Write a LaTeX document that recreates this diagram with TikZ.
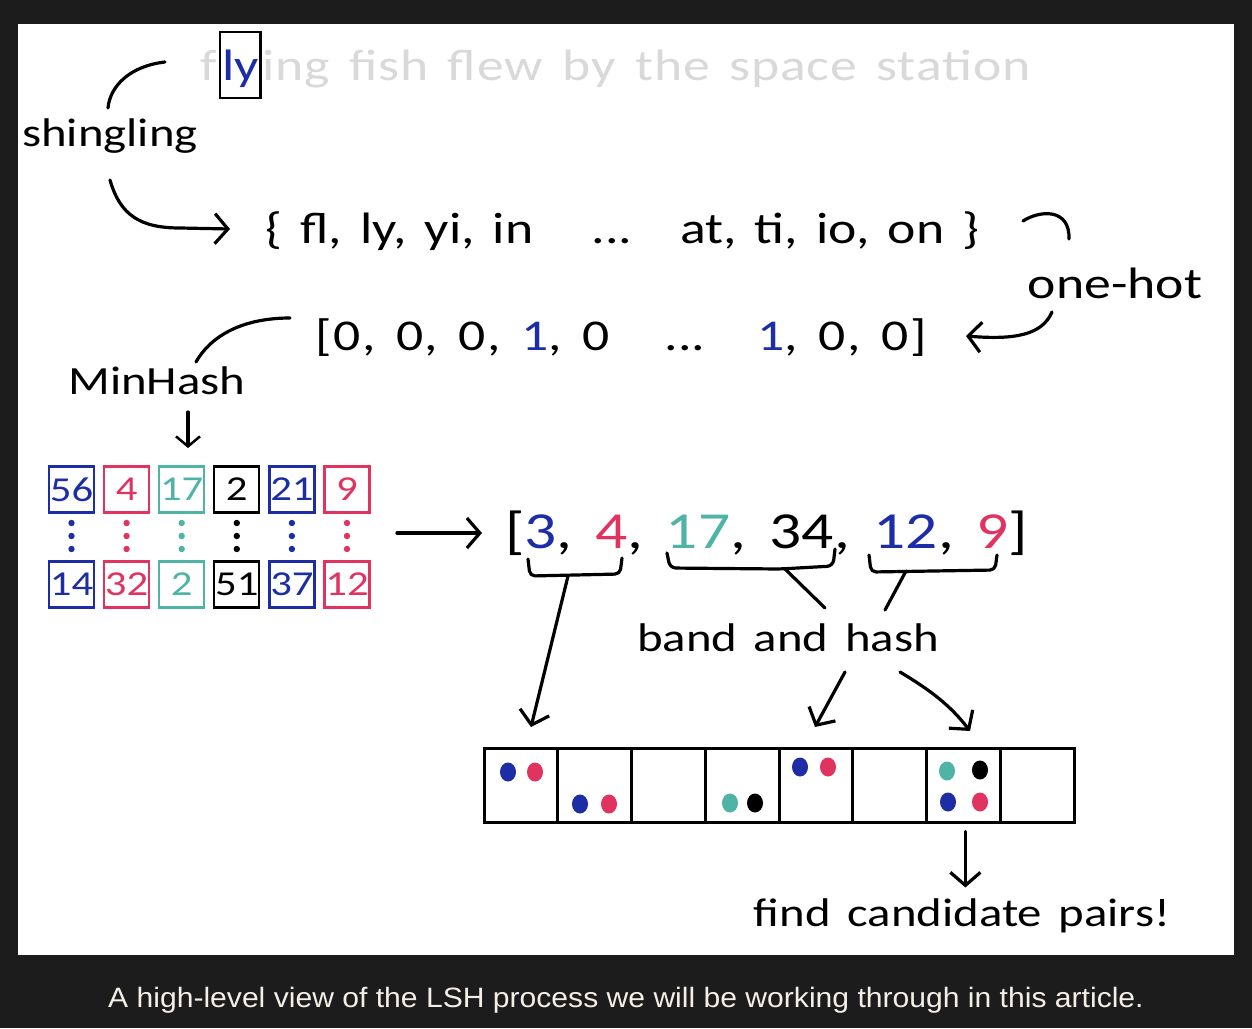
\documentclass[tikz,border=0pt]{standalone}
\usepackage{fontspec}
\setmainfont{Carlito}[FakeStretch=1.22, WordSpace=1.5]
\newfontfamily\captionfont{Liberation Sans}[FakeStretch=1.075]
\usepackage{xcolor}
\usetikzlibrary{arrows.meta,positioning,shapes.geometric,calc}
\definecolor{inkblue}{HTML}{1C2DA6}
\definecolor{inkred}{HTML}{E0335F}
\definecolor{inkteal}{HTML}{4FB4A6}
\definecolor{inkgray}{HTML}{D9D9D9}
\definecolor{darkbg}{HTML}{1C1C1C}
\definecolor{captiontext}{HTML}{F4EFE6}
\tikzstyle{label} = [font=\fontsize{44}{48}\selectfont, inner sep=0pt]
\tikzstyle{smalllabel} = [font=\fontsize{40}{44}\selectfont, inner sep=0pt]
\tikzstyle{biglabel} = [font=\fontsize{52}{56}\selectfont, inner sep=0pt]
\tikzstyle{stroke} = [line width=3.2pt, line cap=round, line join=round]
\tikzstyle{arrow} = [stroke, -{Straight Barb[length=13pt, width=30pt, line width=3.2pt]}]
\tikzstyle{hashbox} = [draw, line width=2.2pt, minimum width=45pt, minimum height=46pt, inner sep=0pt, font=\fontsize{35}{38}\selectfont]
\tikzstyle{bucket} = [draw, line width=3pt, minimum width=73.75pt, minimum height=74pt, inner sep=0pt]
\tikzstyle{ball} = [ellipse, minimum width=16pt, minimum height=19pt, inner sep=0pt]

\begin{document}
\begin{tikzpicture}[x=1pt, y=-1pt]
\fill[darkbg] (0,0) rectangle (1252,1028);
\fill[white] (18,24) rectangle (1234,955);

% sentence and the shingle "ly"
\node[label, text=inkgray, anchor=base west] (f) at (200,80) {f};
\node[label, text=inkblue, anchor=base west, draw=black, line width=2.5pt, inner xsep=2pt, text height=48pt, text depth=18pt] (ly) at ($(f.base east)+(2,0)$) {ly};
\node[label, text=inkgray, anchor=base west] (sentence) at (ly.base east) {\addfontfeatures{LetterSpace=2}ing fish flew by the space station};

\node[smalllabel] (shingling) at (110,136) {shingling};
\node[label, anchor=base west] (setleft) at (265,243) {\{ fl, ly, yi, in};
\node[label, anchor=base] (setdots) at (612,243) {...};
\node[label, anchor=base west] (setright) at (680,243) {at, ti, io, on \}};

\node[label] (onehot) at (1115,283) {one-hot};
\node[label, anchor=base west] (vecleft) at (315,350) {\addfontfeatures{LetterSpace=3.6}[0, 0, 0, \textcolor{inkblue}{1}, 0};
\node[label, anchor=base] (vecdots) at (685,350) {...};
\node[label, anchor=base west] (vecright) at (757,350) {\addfontfeatures{LetterSpace=4}\textcolor{inkblue}{1}, 0, 0]};

\node[smalllabel] (minhash) at (157,381) {MinHash};

% signature matrix
\foreach \top/\bottom/\col [count=\i] in {56/14/inkblue, 4/32/inkred, 17/2/inkteal, 2/51/black, 21/37/inkblue, 9/12/inkred} {
  \node[hashbox, draw=\col, text=\col] (top\i) at ({71.5+55.1*(\i-1)},489.5) {\top};
  \node[hashbox, draw=\col, text=\col] (bottom\i) at ({71.5+55.1*(\i-1)},584.5) {\bottom};
  \foreach \dy in {523,536,549}
    \fill[\col] ({71.5+55.1*(\i-1)},\dy) circle (3.2pt);
}

\node[biglabel, anchor=base west] (signature) at (505,548) {\addfontfeatures{LetterSpace=1.3}[\textcolor{inkblue}{3}, \textcolor{inkred}{4}, \textcolor{inkteal}{17}, 34, \textcolor{inkblue}{12}, \textcolor{inkred}{9}]};

\node[smalllabel] (bandhash) at (788,638) {band and hash};

% buckets
\foreach \i in {1,...,8}
  \node[bucket] (bucket\i) at ({484+73.75*(\i-0.5)},785) {};
\foreach \x/\y/\col in {508/772/inkblue, 535/772/inkred, 580/804/inkblue, 609/804/inkred, 730/803/inkteal, 755/803/black, 800/767/inkblue, 828/767/inkred, 947/771/inkteal, 980/770/black, 948/802/inkblue, 980/802/inkred}
  \node[ball, fill=\col] at (\x,\y) {};

\node[smalllabel] (candidates) at (962,916) {find candidate pairs!};

\node[font=\captionfont\fontsize{28}{32}\selectfont, text=captiontext] (caption) at (626,1000) {A high-level view of the LSH process we will be working through in this article.};

% braces under the signature
\draw[stroke, rounded corners=5pt] (528,559) -- (530,576) -- (620,574) -- (622,558);
\draw[stroke, rounded corners=6pt] (667,553) -- (670,568) -- (780,569) -- (833,566) -- (835,549);
\draw[stroke, rounded corners=5pt] (869,555) -- (871,572) -- (995,570) -- (997,555);
\coordinate (bandA) at (568,576);
\coordinate (bandB) at (785,569);
\coordinate (bandC) at (906,571);

% connector ends
\coordinate (shingA) at (165,62);
\coordinate (shingB) at (108,108);
\coordinate (shingC) at (110,180);
\coordinate (setin) at (230,229);
\coordinate (hookA) at (1023,221);
\coordinate (hookB) at (1069,239);
\coordinate (onehotA) at (1052,312);
\coordinate (vecin) at (966,336);
\coordinate (minA) at (290,318);
\coordinate (minB) at (196,362);
\coordinate (minC) at (188,412);
\coordinate (gridin) at (188,448);
\coordinate (gridout) at (397,533);
\coordinate (sigin) at (482,533);
\coordinate (bandD) at (825,608);
\coordinate (bandE) at (885,610);
\coordinate (bandF) at (845,672);
\coordinate (bandG) at (900,672);
\coordinate (bucketA) at (531,727);
\coordinate (bucketE) at (815,727);
\coordinate (bucketG) at (970,731);
\coordinate (pairsA) at ($(bucket7.south)+(2,8)$);
\coordinate (pairsB) at ($(bucket7.south)+(2,64)$);

% connectors
\draw[stroke] (shingA) .. controls (130,66) and (110,86) .. (shingB);
\draw[arrow] (shingC) .. controls (120,215) and (140,228) .. (180,228) -- (setin);
\draw[stroke] (hookA) .. controls (1040,210) and (1070,208) .. (hookB);
\draw[arrow] (onehotA) .. controls (1042,335) and (1015,340) .. (vecin);
\draw[stroke] (minA) .. controls (245,318) and (212,334) .. (minB);
\draw[arrow, -{Straight Barb[length=10pt, width=24pt, line width=2.5pt]}] (minC) -- (gridin);
\draw[arrow] (gridout) -- (sigin);
\draw[arrow] (bandA) -- (bucketA);
\draw[stroke] (bandB) -- (bandD);
\draw[stroke] (bandC) -- (bandE);
\draw[arrow] (bandF) -- (bucketE);
\draw[arrow] (bandG) .. controls (930,690) and (950,705) .. (bucketG);
\draw[arrow] (pairsA) -- (pairsB);
\end{tikzpicture}
\end{document}
